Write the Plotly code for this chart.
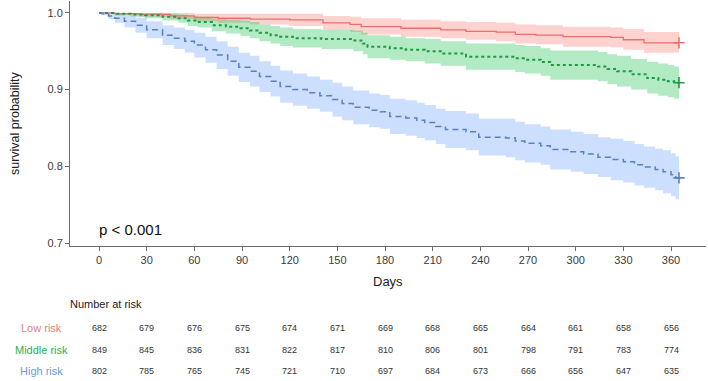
import plotly.graph_objects as go

# ---------------- data ----------------
low_t = [0, 10, 25, 45, 60, 75, 95, 120, 141, 158, 165, 190, 215, 231, 250, 262, 275, 292, 322, 330, 343, 365]
low_s = [1.0, 0.999, 0.998, 0.996, 0.994, 0.993, 0.992, 0.991, 0.987, 0.985, 0.982, 0.980, 0.978, 0.976, 0.975, 0.972, 0.971, 0.969, 0.968, 0.965, 0.961, 0.961]
low_lo = [1.0, 0.997, 0.995, 0.992, 0.989, 0.987, 0.985, 0.983, 0.978, 0.975, 0.972, 0.969, 0.967, 0.965, 0.963, 0.960, 0.959, 0.956, 0.955, 0.952, 0.948, 0.948]
low_hi = [1.0, 1.0, 1.0, 1.0, 0.999, 0.999, 0.999, 0.999, 0.996, 0.995, 0.993, 0.991, 0.989, 0.988, 0.987, 0.985, 0.984, 0.982, 0.981, 0.979, 0.975, 0.975]

mid_t = [0, 10, 20, 29, 40, 50, 56, 62, 71, 80, 89, 95, 101, 108, 114, 122, 140, 160, 166, 169, 183, 193, 205, 215, 231, 262, 268, 278, 284, 314, 320, 326, 335, 345, 352, 358, 362, 365]
mid_s = [1.0, 0.999, 0.998, 0.997, 0.995, 0.993, 0.990, 0.988, 0.984, 0.982, 0.980, 0.977, 0.974, 0.971, 0.969, 0.967, 0.966, 0.964, 0.960, 0.956, 0.954, 0.952, 0.950, 0.947, 0.943, 0.941, 0.939, 0.936, 0.932, 0.930, 0.927, 0.924, 0.920, 0.915, 0.913, 0.911, 0.909, 0.909]
mid_lo = [1.0, 0.997, 0.995, 0.993, 0.990, 0.987, 0.983, 0.981, 0.976, 0.973, 0.970, 0.967, 0.963, 0.960, 0.957, 0.955, 0.953, 0.950, 0.946, 0.941, 0.939, 0.937, 0.934, 0.931, 0.926, 0.923, 0.921, 0.918, 0.913, 0.911, 0.907, 0.904, 0.900, 0.895, 0.892, 0.890, 0.888, 0.888]
mid_hi = [1.0, 1.0, 1.0, 1.0, 0.999, 0.998, 0.996, 0.995, 0.992, 0.991, 0.990, 0.988, 0.985, 0.983, 0.981, 0.979, 0.978, 0.977, 0.974, 0.971, 0.969, 0.967, 0.966, 0.963, 0.960, 0.958, 0.957, 0.954, 0.951, 0.949, 0.946, 0.944, 0.940, 0.936, 0.934, 0.932, 0.930, 0.930]

high_t = [0, 2, 6, 10, 16, 23, 30, 40, 47, 54, 60, 67, 74, 81, 88, 95, 101, 108, 114, 122, 131, 139, 147, 153, 160, 170, 177, 183, 193, 200, 205, 212, 218, 231, 239, 256, 262, 268, 278, 284, 297, 305, 314, 322, 330, 337, 343, 350, 355, 360, 363, 365]
high_s = [1.0, 0.999, 0.996, 0.993, 0.989, 0.984, 0.978, 0.971, 0.967, 0.963, 0.958, 0.952, 0.945, 0.937, 0.929, 0.924, 0.917, 0.911, 0.904, 0.900, 0.896, 0.892, 0.887, 0.882, 0.877, 0.873, 0.871, 0.865, 0.863, 0.860, 0.857, 0.852, 0.848, 0.845, 0.838, 0.837, 0.833, 0.830, 0.827, 0.822, 0.819, 0.816, 0.812, 0.809, 0.806, 0.802, 0.799, 0.796, 0.793, 0.789, 0.785, 0.785]
high_lo = [1.0, 0.997, 0.992, 0.987, 0.981, 0.974, 0.967, 0.958, 0.953, 0.948, 0.942, 0.935, 0.927, 0.918, 0.910, 0.904, 0.897, 0.891, 0.883, 0.879, 0.875, 0.871, 0.865, 0.860, 0.855, 0.851, 0.849, 0.842, 0.840, 0.837, 0.834, 0.829, 0.824, 0.821, 0.814, 0.812, 0.808, 0.805, 0.802, 0.796, 0.793, 0.790, 0.786, 0.782, 0.779, 0.775, 0.772, 0.769, 0.765, 0.761, 0.757, 0.757]
high_hi = [1.0, 1.0, 1.0, 0.999, 0.997, 0.994, 0.989, 0.984, 0.981, 0.978, 0.974, 0.969, 0.963, 0.956, 0.948, 0.944, 0.937, 0.931, 0.925, 0.921, 0.917, 0.913, 0.909, 0.904, 0.899, 0.895, 0.893, 0.888, 0.886, 0.883, 0.880, 0.875, 0.872, 0.869, 0.862, 0.862, 0.858, 0.855, 0.852, 0.848, 0.845, 0.842, 0.838, 0.836, 0.833, 0.829, 0.826, 0.823, 0.821, 0.817, 0.813, 0.813]

groups = ["Low risk", "Middle risk", "High risk"]
risk_days = [0, 30, 60, 90, 120, 150, 180, 210, 240, 270, 300, 330, 360]
risk_low = [682, 679, 676, 675, 674, 671, 669, 668, 665, 664, 661, 658, 656]
risk_mid = [849, 845, 836, 831, 822, 817, 810, 806, 801, 798, 791, 783, 774]
risk_high = [802, 785, 765, 745, 721, 710, 697, 684, 673, 666, 656, 647, 635]
y_ticks = [0.7, 0.8, 0.9, 1.0]
p_text = "p < 0.001"

# ---------------- styling ----------------
W, H = 708, 381
FONT = "Arial, Liberation Sans, sans-serif"
line_cols = ["#E8716A", "#1E9A40", "#5A80BE"]
fill_cols = ["rgba(248,118,109,0.33)", "rgba(0,186,56,0.30)", "rgba(97,156,255,0.32)"]
label_cols = ["#D98580", "#2DAE4E", "#6C9AD6"]
dashes = ["solid", "3px,3px", "6px,4px"]
widths = [1.3, 2.0, 1.5]

series = [
    (low_t, low_s, low_lo, low_hi),
    (mid_t, mid_s, mid_lo, mid_hi),
    (high_t, high_s, high_lo, high_hi),
]

fig = go.Figure()
for i, (t, s, lo, hi) in enumerate(series):
    fig.add_trace(go.Scatter(x=t, y=hi, mode="lines", line=dict(width=0, shape="hv"),
                             hoverinfo="skip", showlegend=False))
    fig.add_trace(go.Scatter(x=t, y=lo, mode="lines", line=dict(width=0, shape="hv"),
                             fill="tonexty", fillcolor=fill_cols[i],
                             hoverinfo="skip", showlegend=False))
for i, (t, s, lo, hi) in enumerate(series):
    fig.add_trace(go.Scatter(x=t, y=s, mode="lines", name=groups[i],
                             line=dict(color=line_cols[i], width=widths[i], dash=dashes[i], shape="hv"),
                             showlegend=False))
    fig.add_trace(go.Scatter(x=[t[-1]], y=[s[-1]], mode="markers",
                             marker=dict(symbol="cross-thin", size=8,
                                         line=dict(color=line_cols[i], width=1.6)),
                             showlegend=False, hoverinfo="skip"))

# pixel helpers
def px_x(p):
    return p / W
def px_y(p):
    return 1 - p / H

x_left, x_right = 70, 706
y_top, y_bot = 1, 248

fig.update_layout(
    width=W, height=H,
    margin=dict(l=0, r=0, t=0, b=0),
    paper_bgcolor="white", plot_bgcolor="white",
    font=dict(family=FONT, color="#333333"),
    showlegend=False,
    xaxis=dict(
        domain=[px_x(x_left), px_x(x_right)],
        range=[-18.25, 382],
        tickmode="array", tickvals=risk_days, ticktext=[str(d) for d in risk_days],
        showgrid=False, zeroline=False,
        showline=True, linecolor="#6b6b6b", linewidth=1,
        ticks="outside", ticklen=4, tickcolor="#6b6b6b",
        tickfont=dict(size=11, color="#3a3a3a", family=FONT),
    ),
    yaxis=dict(
        domain=[px_y(y_bot), px_y(y_top)],
        range=[0.69612, 1.01552],
        tickmode="array", tickvals=y_ticks, ticktext=[f"{v:.1f}" for v in y_ticks],
        showgrid=False, zeroline=False,
        showline=True, linecolor="#6b6b6b", linewidth=1,
        ticks="outside", ticklen=4, tickcolor="#6b6b6b",
        tickfont=dict(size=11, color="#3a3a3a", family=FONT),
    ),
)

ann = []
ann.append(dict(text="Days", x=px_x(388), y=px_y(284), xref="paper", yref="paper",
                showarrow=False, font=dict(size=13, color="#222222", family=FONT),
                xanchor="center", yanchor="middle"))
ann.append(dict(text="survival probability", x=px_x(15), y=px_y(124), xref="paper", yref="paper",
                textangle=-90, showarrow=False, font=dict(size=12.5, color="#222222", family=FONT),
                xanchor="center", yanchor="middle"))
ann.append(dict(text=p_text, x=px_x(97), y=px_y(231), xref="paper", yref="paper",
                showarrow=False, font=dict(size=15, color="#111111", family=FONT),
                xanchor="left", yanchor="middle"))
ann.append(dict(text="Number at risk", x=px_x(68), y=px_y(306), xref="paper", yref="paper",
                showarrow=False, font=dict(size=11, color="#222222", family=FONT),
                xanchor="left", yanchor="middle"))

row_y = [331, 353, 374]
risk_rows = [risk_low, risk_mid, risk_high]
for i, g in enumerate(groups):
    ann.append(dict(text=g, x=px_x(41), y=px_y(row_y[i]), xref="paper", yref="paper",
                    showarrow=False, font=dict(size=11, color=label_cols[i], family=FONT),
                    xanchor="center", yanchor="middle"))
    for d, n in zip(risk_days, risk_rows[i]):
        ann.append(dict(text=str(n), x=d, y=px_y(row_y[i]), xref="x", yref="paper",
                        showarrow=False, font=dict(size=9, color="#333333", family=FONT),
                        xanchor="center", yanchor="middle"))

fig.update_layout(annotations=ann)
fig.write_html("out.html",
               config={"displayModeBar": False},
               post_script="document.body.style.margin='0';document.body.style.overflow='hidden';")
